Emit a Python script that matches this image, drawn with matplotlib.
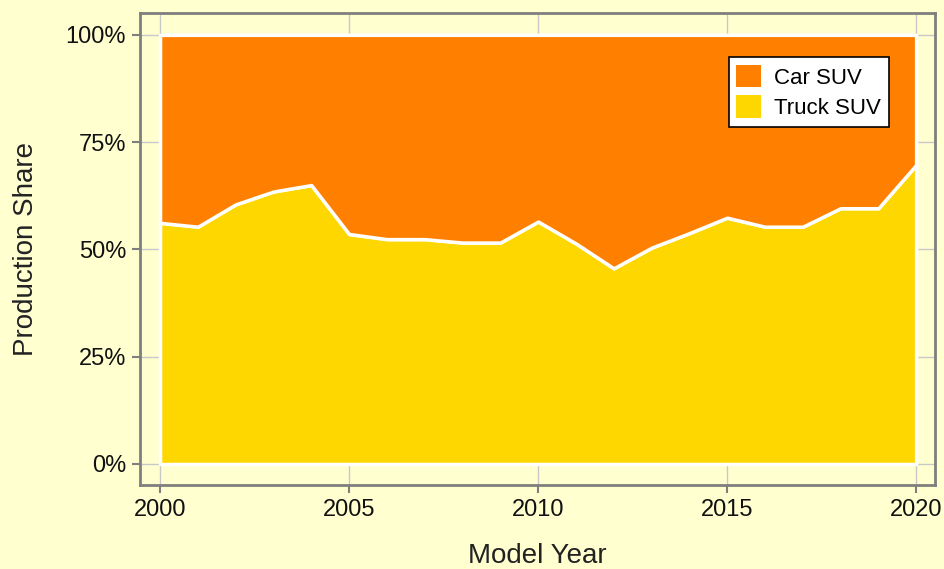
import matplotlib
matplotlib.use("Agg")
import matplotlib.pyplot as plt
import numpy as np
from matplotlib.patches import Patch

plt.rcParams['font.family'] = ['Liberation Sans', 'DejaVu Sans']

# production share of truck SUVs (%) by model year, car SUVs make up the rest
years = list(range(2000, 2021))
truck_suv = [56.2, 55.3, 60.5, 63.5, 65.0, 53.6, 52.4, 52.4, 51.6, 51.6, 56.5,
             51.4, 45.6, 50.4, 53.8, 57.4, 55.3, 55.3, 59.6, 59.6, 69.7]
car_suv = [100 - v for v in truck_suv]
series_names = ['Car SUV', 'Truck SUV']
y_ticks = [0, 25, 50, 75, 100]
y_labels = ['0%', '25%', '50%', '75%', '100%']
x_ticks = [2000, 2005, 2010, 2015, 2020]

bg = '#FFFFD0'
orange = '#FF8000'
yellow = '#FFD700'
frame_col = '#7f7f7f'

fig = plt.figure(figsize=(9.44, 5.69), dpi=100)
fig.patch.set_facecolor(bg)
ax = fig.add_axes([0.1483, 0.1476, 0.8422, 0.8296])
ax.set_facecolor(bg)

x = np.array(years)
lower = np.array(truck_suv)
upper = lower + np.array(car_suv)

ax.fill_between(x, 0, lower, facecolor=yellow, edgecolor='white', linewidth=2.5, zorder=2)
ax.fill_between(x, lower, upper, facecolor=orange, edgecolor='white', linewidth=2.5, zorder=2)

ax.set_xlim(1999.47, 2020.5)
ax.set_ylim(-4.9, 105.1)
ax.set_xticks(x_ticks)
ax.set_yticks(y_ticks)
ax.set_yticklabels(y_labels)
ax.grid(True, color='#c8c8c8', linewidth=1, zorder=0)
ax.set_axisbelow(True)

for s in ax.spines.values():
    s.set_color(frame_col)
    s.set_linewidth(2)
ax.tick_params(axis='both', colors=frame_col, labelcolor='#111111',
               labelsize=17, length=6, width=1.5, pad=4)

ax.set_xlabel('Model Year', fontsize=20, color='#222222', labelpad=16)
ax.set_ylabel('Production Share', fontsize=20, color='#222222', labelpad=19)

handles = [Patch(facecolor=orange, edgecolor='none'),
           Patch(facecolor=yellow, edgecolor='none')]
leg = ax.legend(handles, series_names, loc='upper right',
                bbox_to_anchor=(0.942, 0.907), fontsize=16, fancybox=False,
                framealpha=1, edgecolor='black', handlelength=1.1,
                handleheight=1.2, handletextpad=0.6, borderpad=0.35,
                labelspacing=0.3, borderaxespad=0)
leg.get_frame().set_linewidth(1.2)

fig.savefig('out.png', dpi=100, facecolor=bg)
